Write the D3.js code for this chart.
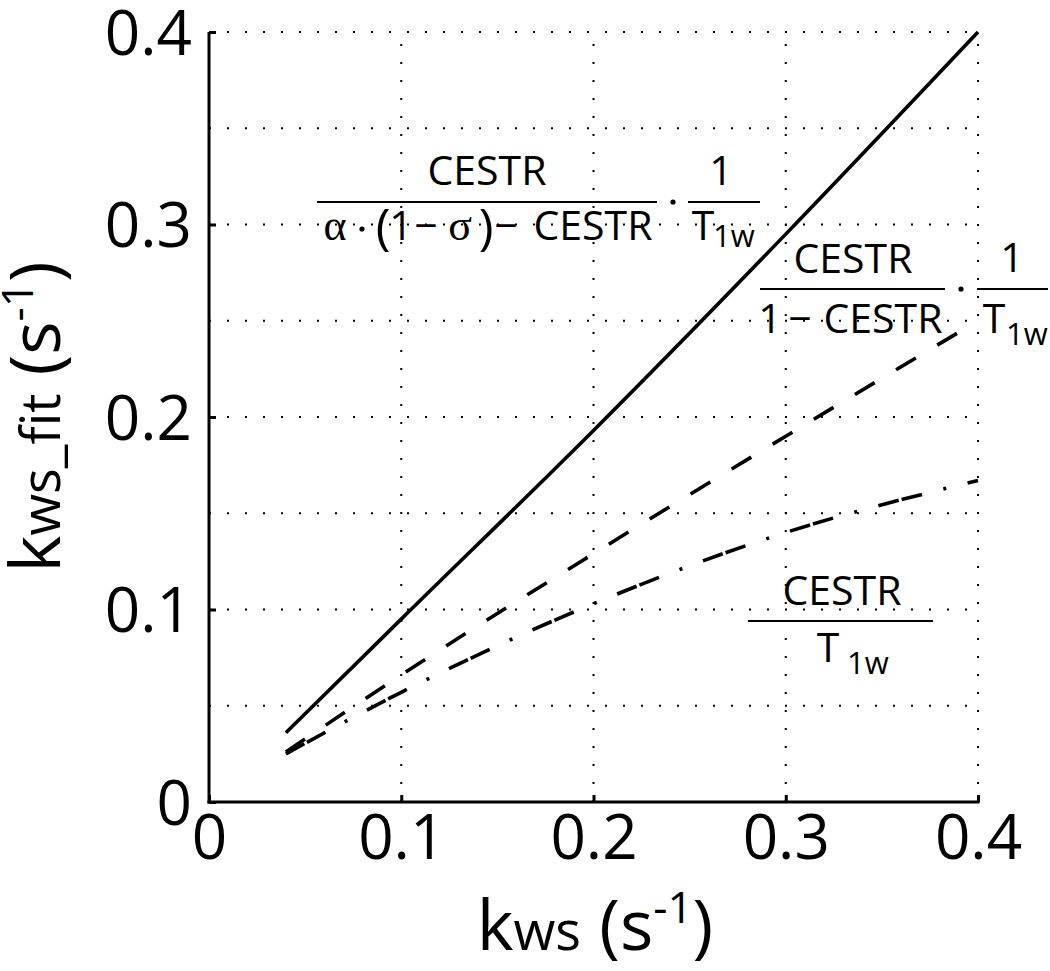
<!DOCTYPE html>
<html><head><meta charset="utf-8">
<script src="https://cdn.jsdelivr.net/npm/d3@7"></script>
<style>body{margin:0;background:#fff}text{font-family:"Open Sans",sans-serif;fill:#000}</style>
</head><body>
<svg id="c" width="1050" height="971"></svg>
<script>
const xTicks=[0,0.1,0.2,0.3,0.4];
const yTicks=[0,0.1,0.2,0.3,0.4];
const yGrid=[0.05,0.1,0.15,0.2,0.25,0.3,0.35,0.4];
const xGrid=[0.1,0.2,0.3,0.4];
const kws=[0.04,0.1,0.2,0.3,0.4];
const fitFull=[0.036,0.095,0.193,0.295,0.4];
const fitSimple=[0.026,0.066,0.129,0.19,0.25];
const fitRatio=[0.025,0.057,0.103,0.14,0.167];

const svg=d3.select("#c");
const x=d3.scaleLinear().domain([0,0.4]).range([209,978]);
const y=d3.scaleLinear().domain([0,0.4]).range([802,32]);
const fmt=d=>d===0?"0":d3.format(".1f")(d);

// grid
const g=svg.append("g").attr("stroke","#000").attr("stroke-width",2).attr("stroke-dasharray","2,16");
g.selectAll(".hg").data(yGrid).join("line").attr("x1",x(0)+1).attr("x2",x(0.4)).attr("y1",d=>y(d)).attr("y2",d=>y(d)).attr("stroke-dashoffset",-17);
g.selectAll(".vg").data(xGrid).join("line").attr("x1",d=>x(d)).attr("x2",d=>x(d)).attr("y1",y(0)-1).attr("y2",y(0.4)).attr("stroke-dashoffset",-17);

// axes
const xa=svg.append("g").attr("transform",`translate(0,${y(0)})`)
  .call(d3.axisBottom(x).tickValues(xTicks).tickFormat(fmt).tickSizeInner(-7).tickSizeOuter(0).tickPadding(13));
const ya=svg.append("g").attr("transform",`translate(${x(0)},0)`)
  .call(d3.axisLeft(y).tickValues(yTicks).tickFormat(fmt).tickSizeInner(-7).tickSizeOuter(0).tickPadding(17));
[xa,ya].forEach(a=>{
  a.selectAll("path,line").attr("stroke","#000").attr("stroke-width",3);
  a.selectAll("text").style("font-family","'Open Sans',sans-serif").style("font-size","62px").attr("fill","#000");
});
ya.selectAll("path.domain").attr("d",`M0,${y(0)+1.5}V${y(0.4)}`);
xa.selectAll("path.domain").attr("d",`M${x(0)-1.5},0H${x(0.4)+1.5}`);
ya.selectAll(".tick text").attr("dy","0.36em");

// lines
const line=d3.line().x(d=>x(d[0])).y(d=>y(d[1])).curve(d3.curveMonotoneX);
const series=[
 {v:fitFull,dash:null},
 {v:fitSimple,dash:"23,25"},
 {v:fitRatio,dash:"21,3,21,22,3,22"}
];
series.forEach(s=>{
  svg.append("path").datum(kws.map((k,i)=>[k,s.v[i]])).attr("d",line)
   .attr("fill","none").attr("stroke","#000").attr("stroke-width",3.6)
   .attr("stroke-dasharray",s.dash);
});

// axis titles
function title(sel,sub){
  sel.append("tspan").text("k");
  sel.append("tspan").style("font-size","54px").text(sub);
  sel.append("tspan").text(" (s");
  sel.append("tspan").style("font-size","44px").attr("dy",-27).text("-1");
  sel.append("tspan").attr("dy",27).text(")");
}
title(svg.append("text").attr("x",595).attr("y",950).attr("text-anchor","middle").style("font-size","70px"),"ws");
title(svg.append("text").attr("transform","translate(60,417) rotate(-90)").attr("text-anchor","middle").style("font-size","70px"),"ws_fit");

// annotations
function txt(s,cx,by,size,anchor,fam){
  return svg.append("text").attr("x",cx).attr("y",by).attr("text-anchor",anchor||"middle")
    .style("font-size",size+"px").style("font-family",fam||"'Open Sans',sans-serif").text(s);
}
function bar(x1,x2,yy){svg.append("line").attr("x1",x1).attr("x2",x2).attr("y1",yy).attr("y2",yy).attr("stroke","#000").attr("stroke-width",2.2);}
function dot(cx,cy){svg.append("circle").attr("cx",cx).attr("cy",cy).attr("r",2.6).attr("fill","#000");}

// annotation 1
txt("CESTR",487,185,41);
bar(317,657,202);
txt("α",335,240,44,"middle","'Liberation Serif',serif");
dot(362,229);
txt("(",383,244,50);
txt("1",401,240,41);
txt("−",426,240,41);
txt("σ",460,240,44,"middle","'Liberation Serif',serif");
txt(")",486,244,50);
txt("−",506,240,41);
txt("CESTR",593,240,41);
dot(673,202);
txt("1",721,185,41);
bar(688,760,202);
txt("T",703,240,41);
txt("1w",713,247,31,"start");

// annotation 2
txt("CESTR",853,273,41);
bar(760,945,289);
txt("1",770,333,41);
txt("−",800,333,41);
txt("CESTR",883,333,41);
dot(961,289);
txt("1",1012,272,41);
bar(977,1048,289);
txt("T",994,333,41);
txt("1w",1006,345,31,"start");

// annotation 3
txt("CESTR",842,605,41);
bar(748,933,621);
txt("T",828,662,41);
txt("1w",847,674,31,"start");
</script>
</body></html>
